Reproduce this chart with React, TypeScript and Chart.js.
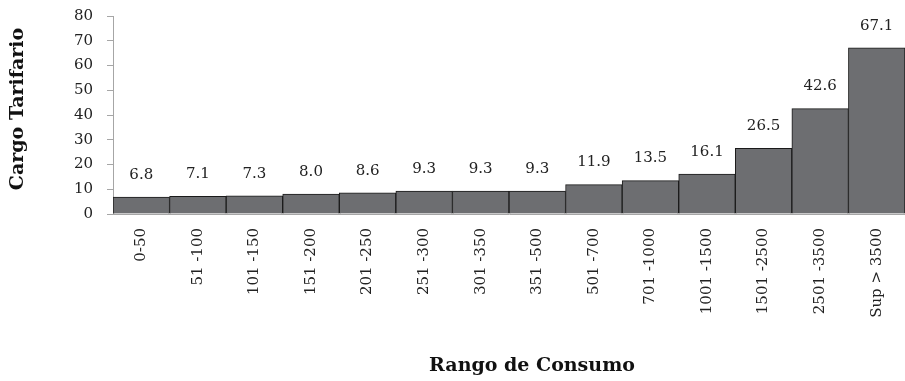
import React, { useEffect, useRef } from "react";
import { Chart, registerables } from "chart.js";

Chart.register(...registerables);

const categories = [
  "0-50", "51-100", "101-150", "151-200", "201-250", "251-300", "301-350",
  "351-500", "501-700", "701-1000", "1001-1500", "1501-2500", "2501-3500", "Sup > 3500",
];
const tickLabels = [
  "0-50", "51 -100", "101 -150", "151 -200", "201 -250", "251 -300", "301 -350",
  "351 -500", "501 -700", "701 -1000", "1001 -1500", "1501 -2500", "2501 -3500", "Sup > 3500",
];
const cargo = [6.8, 7.1, 7.3, 8.0, 8.6, 9.3, 9.3, 9.3, 11.9, 13.5, 16.1, 26.5, 42.6, 67.1];
const yTicks = [0, 10, 20, 30, 40, 50, 60, 70, 80];
const xTitle = "Rango de Consumo";
const yTitle = "Cargo Tarifario";

const FONT = "'DejaVu Serif', 'Liberation Serif', serif";

const labelPlugin = {
  id: "valueLabels",
  afterDatasetsDraw(chart: any) {
    const ctx = chart.ctx;
    const meta = chart.getDatasetMeta(0);
    ctx.save();
    ctx.font = `15px ${FONT}`;
    ctx.fillStyle = "#222";
    ctx.textAlign = "center";
    ctx.textBaseline = "middle";
    meta.data.forEach((bar: any, i: number) => {
      ctx.fillText(cargo[i].toFixed(1), bar.x, bar.y - 22);
    });
    // axis titles
    ctx.font = `bold 19px ${FONT}`;
    ctx.fillStyle = "#111";
    const area = chart.chartArea;
    ctx.fillText(xTitle, (area.left + area.right) / 2 + 23, 366);
    ctx.translate(18.5, (area.top + area.bottom) / 2 - 6);
    ctx.rotate(-Math.PI / 2);
    ctx.fillText(yTitle, 0, 0);
    ctx.restore();
  },
};

export default function App() {
  const ref = useRef<HTMLCanvasElement>(null);
  useEffect(() => {
    if (!ref.current) return;
    const chart = new Chart(ref.current, {
      type: "bar",
      data: {
        labels: categories,
        datasets: [
          {
            data: cargo,
            backgroundColor: "#6d6e71",
            borderColor: "#1a1a1a",
            borderWidth: 1,
            categoryPercentage: 1,
            barPercentage: 1,
          },
        ],
      },
      options: {
        animation: false,
        responsive: true,
        maintainAspectRatio: false,
        layout: { padding: { top: 16, right: 0, left: 0, bottom: 0 } },
        plugins: { legend: { display: false }, tooltip: { enabled: false } },
        scales: {
          x: {
            afterFit: (s: any) => { s.height = 167; },
            grid: { display: false },
            border: { color: "#a6a6a6", width: 1 },
            ticks: {
              maxRotation: 90,
              minRotation: 90,
              padding: 6,
              color: "#222",
              font: { family: FONT, size: 15 },
              callback: (_v: any, i: number) => tickLabels[i],
            },
          },
          y: {
            min: 0,
            max: 80,
            afterFit: (s: any) => { s.width = 113; s.paddingTop = 0; s.paddingBottom = 0; },
            afterBuildTicks: (s: any) => { s.ticks = yTicks.map((v) => ({ value: v })); },
            grid: { drawOnChartArea: false, drawTicks: true, tickLength: 6, color: "#a6a6a6" },
            border: { color: "#a6a6a6", width: 1 },
            ticks: {
              padding: 14,
              color: "#222",
              font: { family: FONT, size: 15 },
            },
          },
        },
      },
      plugins: [labelPlugin],
    });
    return () => chart.destroy();
  }, []);
  return (
    <div style={{ position: "absolute", left: 0, top: 0, width: 905, height: 381 }}>
      <canvas ref={ref} />
    </div>
  );
}
